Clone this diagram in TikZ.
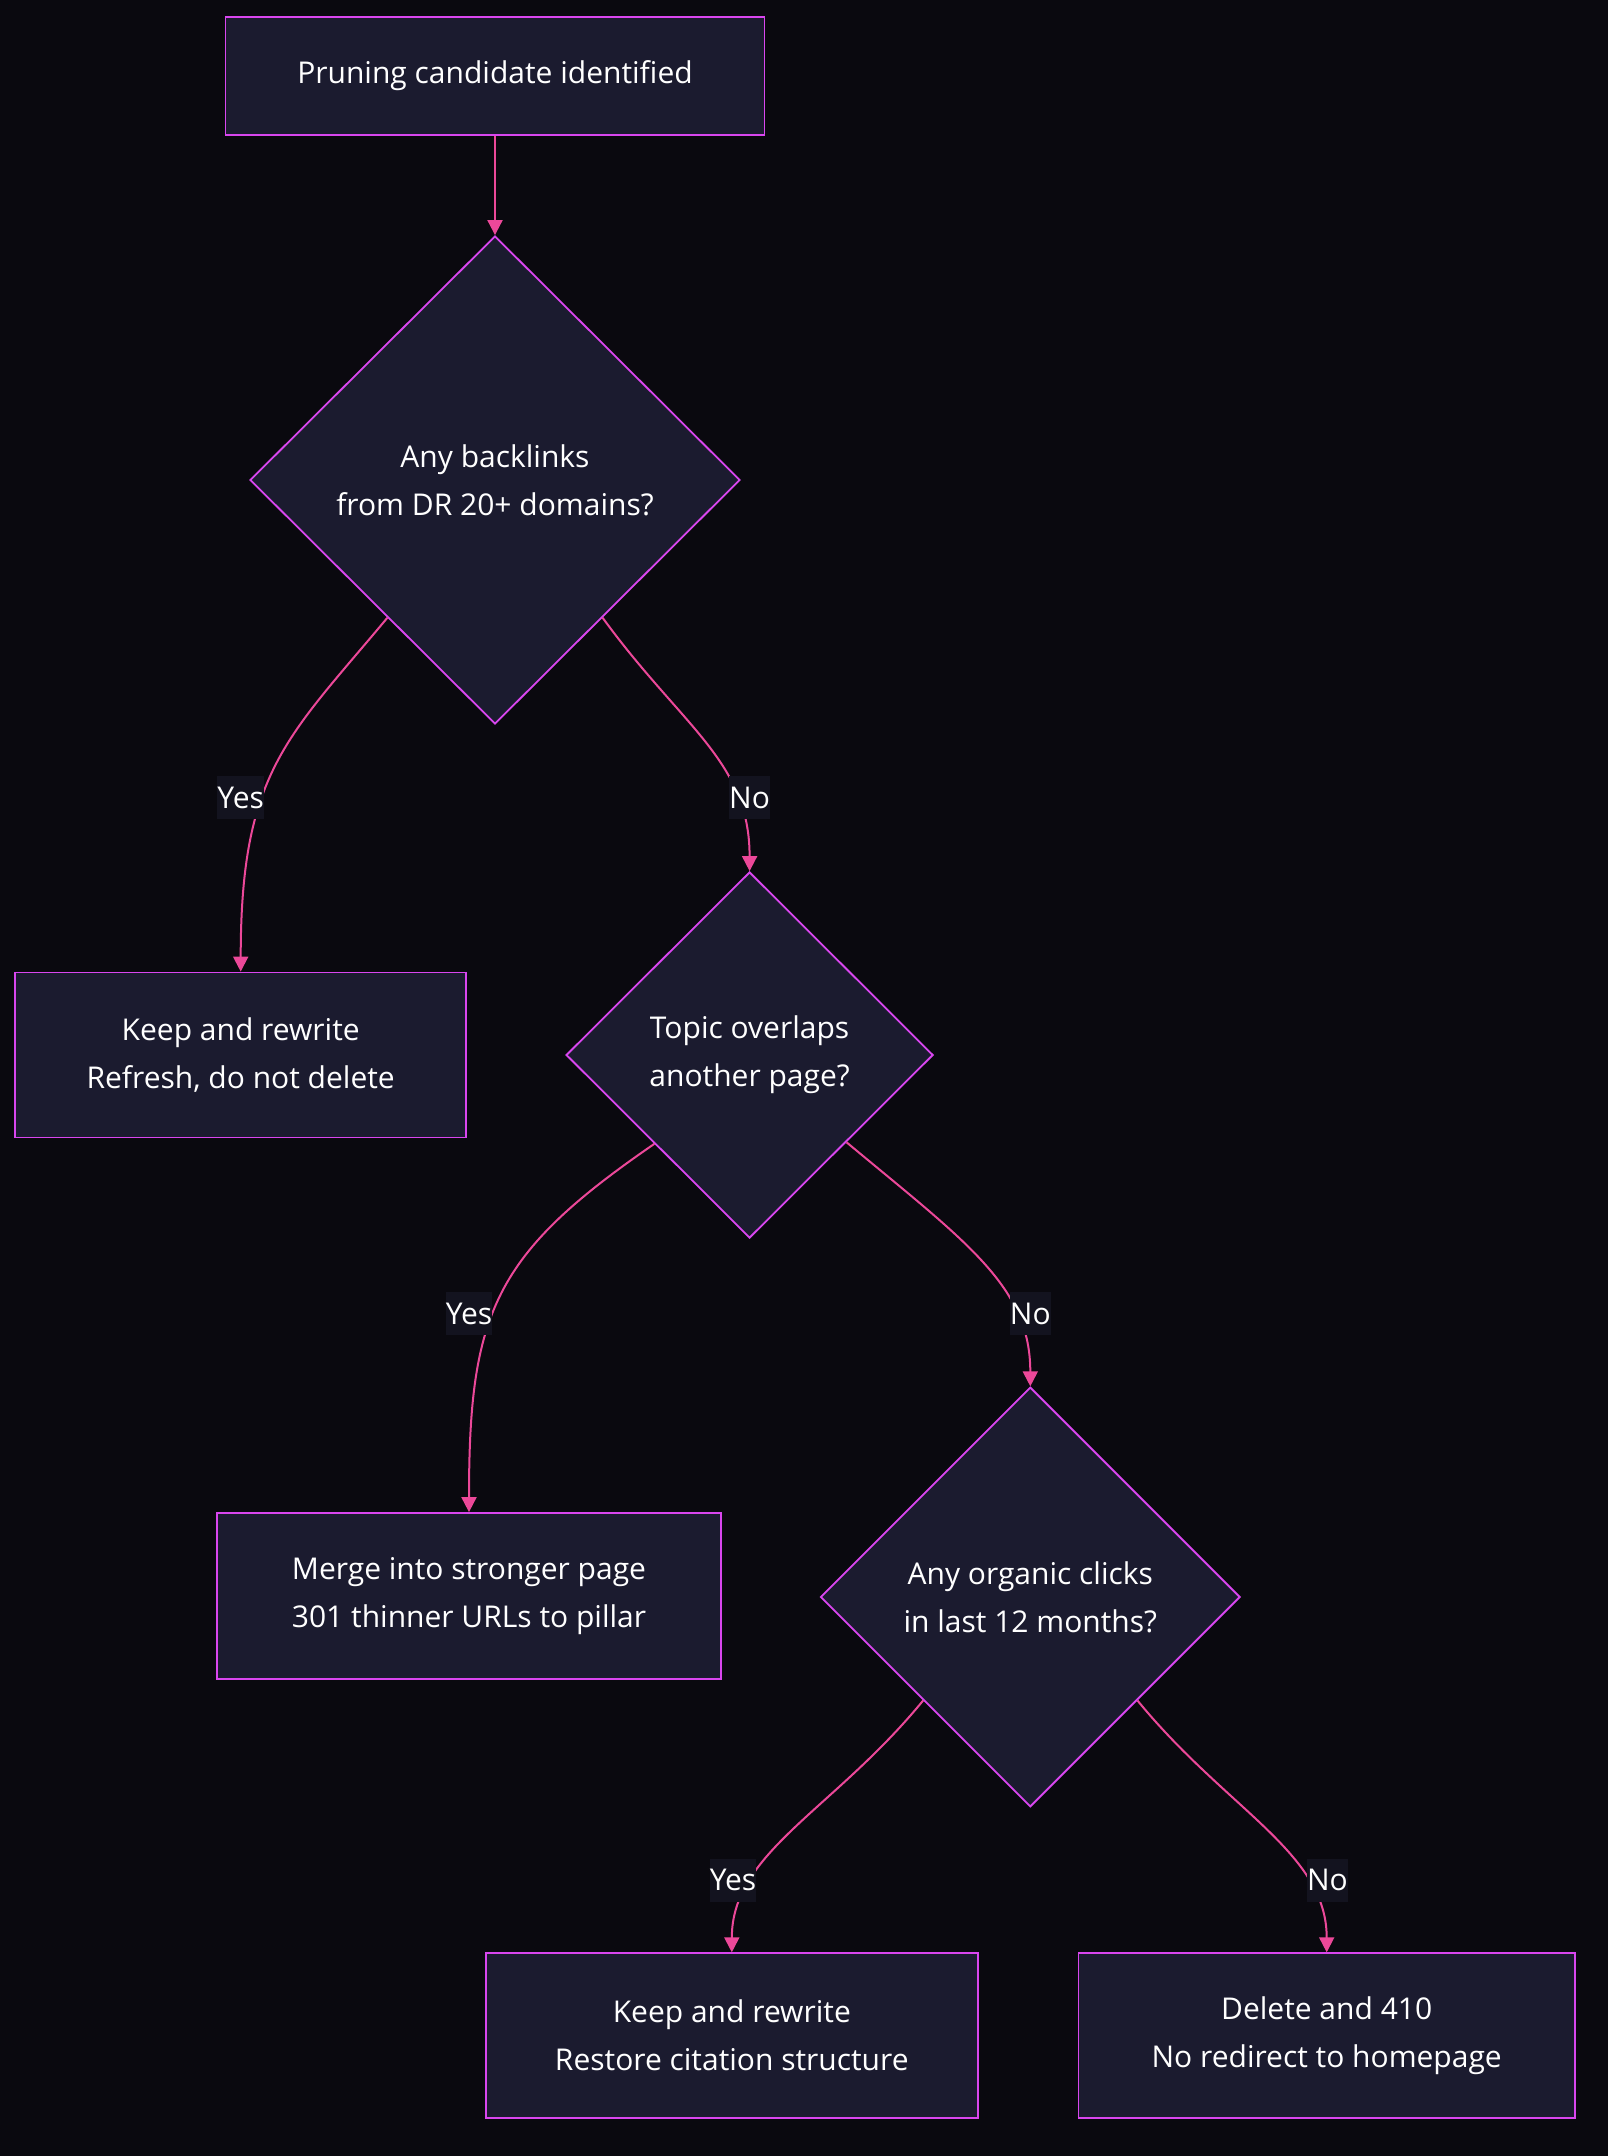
\documentclass[tikz,border=0pt]{standalone}
\usepackage{fontspec}
\setmainfont{Open Sans}
\usetikzlibrary{positioning,arrows.meta,shapes.geometric}
\definecolor{fundoescuro}{HTML}{0A090F}
\definecolor{preenchimento}{HTML}{1B1B2F}
\definecolor{borda}{HTML}{D946EF}
\definecolor{rosa}{HTML}{EC4899}
\definecolor{fundorotulo}{HTML}{13131F}

\begin{document}
\begin{tikzpicture}[x=0.5pt, y=-0.5pt,
    bloco/.style={draw=borda, fill=preenchimento, line width=0.9pt, text=white, align=center,
        font=\fontsize{15}{24}\selectfont, inner sep=0pt, minimum height=82.5pt},
    decisao/.style={diamond, draw=borda, fill=preenchimento, line width=0.9pt, text=white, align=center,
        font=\fontsize{15}{24}\selectfont, inner sep=0pt},
    ligacao/.style={draw=rosa, line width=1pt, -{Triangle[length=7.5pt,width=7.5pt]}},
    rotulo/.style={fill=fundorotulo, text=white, font=\fontsize{15}{24}\selectfont, inner sep=0pt, minimum height=21.5pt}]

        % Fundo
        \fill[fundoescuro] (0,0) rectangle (1608,2156);

        % Nós
        \node[bloco, minimum width=269.5pt, minimum height=59pt] (inicio) at (495,75.7) {Pruning candidate identified};
        \node[decisao, minimum width=245pt, minimum height=244pt] (backlinks) at (495,480) {Any backlinks\\from DR 20+ domains?};
        \node[bloco, minimum width=225.5pt] (reescrever) at (240.7,1055) {Keep and rewrite\\Refresh, do not delete};
        \node[decisao, minimum width=183.5pt, minimum height=183pt] (sobreposicao) at (749.6,1055) {Topic overlaps\\another page?};
        \node[bloco, minimum width=251.8pt, minimum height=83pt] (fundir) at (469,1596) {Merge into stronger page\\301 thinner URLs to pillar};
        \node[decisao, minimum width=209.8pt, minimum height=209.8pt] (cliques) at (1030.3,1597) {Any organic clicks\\in last 12 months?};
        \node[bloco, minimum width=246.2pt] (restaurar) at (731.8,2035.7) {Keep and rewrite\\Restore citation structure};
        \node[bloco, minimum width=248.3pt] (apagar) at (1326.7,2035.7) {Delete and 410\\No redirect to homepage};

        % Ligações
        \draw[ligacao] (inicio) -- (backlinks);
        \draw[ligacao] (backlinks.-128) .. controls +(-100,120) and +(0,-200) .. (reescrever.north);
        \draw[ligacao] (backlinks.-52) .. controls +(80,110) and +(0,-110) .. (sobreposicao.north);
        \draw[ligacao] (sobreposicao.-137) .. controls +(-160,110) and +(0,-200) .. (fundir.north);
        \draw[ligacao] (sobreposicao.-42) .. controls +(120,100) and +(0,-100) .. (cliques.north);
        \draw[ligacao] (cliques.-136) .. controls +(-90,110) and +(0,-100) .. (restaurar.north);
        \draw[ligacao] (cliques.-44) .. controls +(90,110) and +(0,-100) .. (apagar.north);

        % Rótulos
        \node[rotulo] (sim1) at (240.7,797.8) {Yes};
        \node[rotulo] (nao1) at (749.6,797.8) {No};
        \node[rotulo] (sim2) at (469,1313.6) {Yes};
        \node[rotulo] (nao2) at (1030.3,1313.6) {No};
        \node[rotulo] (sim3) at (733,1880) {Yes};
        \node[rotulo] (nao3) at (1327.4,1880) {No};

    \end{tikzpicture}
\end{document}
